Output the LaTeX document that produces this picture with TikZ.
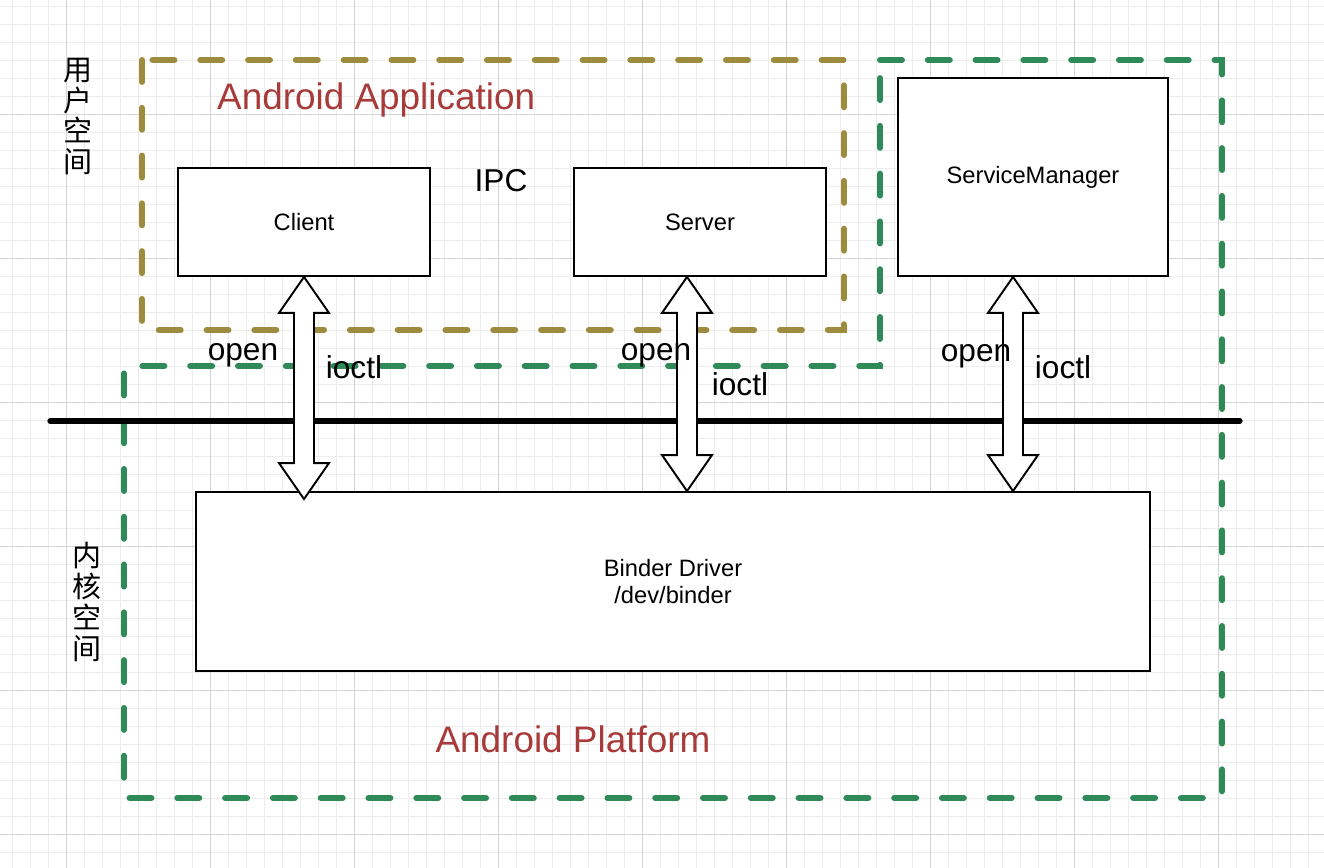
\documentclass[tikz,border=0pt]{standalone}
\usepackage{fontspec}
\setmainfont{Liberation Sans}
\newfontfamily\cjk{Noto Sans CJK SC}
\usetikzlibrary{calc}
\definecolor{appolive}{RGB}{158,140,62}
\definecolor{platgreen}{RGB}{46,139,87}
\definecolor{titlered}{RGB}{168,58,58}
\begin{document}
\begin{tikzpicture}[
            x=0.02cm, y=-0.02cm,
            minorgrid/.style={draw=black!7,line width=0.5pt},
            majorgrid/.style={draw=black!17,line width=0.5pt},
            box/.style={rectangle,draw,line width=1.1pt,fill=white,align=center,font=\fontsize{13.5}{15.9}\selectfont},
            region/.style={line width=3.4pt,dash pattern=on 12.5pt off 14.7pt,line cap=round},
            lbl/.style={font=\fontsize{18}{21}\selectfont,anchor=base},
            title/.style={font=\fontsize{21}{25}\selectfont,text=titlered,anchor=base},
            space/.style={font=\cjk\fontsize{16.5}{17.6}\selectfont,align=center},
            dblarrow/.style={draw,line width=1.1pt,fill=white,line join=miter,to path={
                let \p1=(\tikztostart), \p2=(\tikztotarget) in
                (\x1,\y1) -- (\x1+0.5cm,\y1-0.72cm) -- (\x1+0.2cm,\y1-0.72cm)
                -- (\x1+0.2cm,\y2+0.72cm) -- (\x1+0.5cm,\y2+0.72cm) -- (\x2,\y2)
                -- (\x1-0.5cm,\y2+0.72cm) -- (\x1-0.2cm,\y2+0.72cm)
                -- (\x1-0.2cm,\y1-0.72cm) -- (\x1-0.5cm,\y1-0.72cm) -- cycle}}
        ]
            \useasboundingbox (0,0) rectangle (1324,868);
            \fill[white] (0,0) rectangle (1324,868);

            % background grid
            \foreach \x in {12.7,30.7,...,1324} \draw[minorgrid] (\x,0) -- (\x,868);
            \foreach \y in {6,24,...,868} \draw[minorgrid] (0,\y) -- (1324,\y);
            \foreach \x in {66.7,210.7,...,1324} \draw[majorgrid] (\x,0) -- (\x,868);
            \foreach \y in {114,258,...,868} \draw[majorgrid] (0,\y) -- (1324,\y);

            % regions
            \draw[region,appolive] (142,60) rectangle (844,330);
            \draw[region,platgreen] (880,60) -- (1222,60) -- (1222,798) -- (124,798)
                -- (124,366) -- (880,366) -- cycle;

            % user / kernel border
            \draw[line width=3pt,line cap=round] (50,421) -- (1240,421);

            \node[box,minimum width=5.04cm,minimum height=2.16cm] (client) at (304,222) {Client};
            \node[box,minimum width=5.04cm,minimum height=2.16cm] (server) at (700,222) {Server};
            \node[box,minimum width=5.4cm,minimum height=3.96cm] (svcmgr) at (1033,177) {ServiceManager};
            \node[box,minimum width=19.08cm,minimum height=3.58cm] (binder) at (673,581.5) {Binder Driver\\/dev/binder};

            \coordinate (srvx) at (687,0);
            \coordinate (smx) at (1013,0);
            \draw[dblarrow] (client.south) to ([yshift=-0.16cm]client.south |- binder.north);
            \draw[dblarrow] (server.south -| srvx) to (binder.north -| srvx);
            \draw[dblarrow] (svcmgr.south -| smx) to (binder.north -| smx);

            \node[lbl] (copen) at (243,360) {open};
            \node[lbl] (cioctl) at (354,378) {ioctl};
            \node[lbl] (sopen) at (656,360) {open};
            \node[lbl] (sioctl) at (740,395) {ioctl};
            \node[lbl] (mopen) at (976,361) {open};
            \node[lbl] (mioctl) at (1063,378) {ioctl};
            \node[lbl] (ipc) at (501,192) {IPC};

            \node[title,anchor=base west] (apptitle) at (211,110) {Android Application};
            \node[title] (plattitle) at (573,752) {Android Platform};

            \node[space] (userspace) at (77.5,116.5) {用\\户\\空\\间};
            \node[space] (kernelspace) at (87,602) {内\\核\\空\\间};
        \end{tikzpicture}
\end{document}
